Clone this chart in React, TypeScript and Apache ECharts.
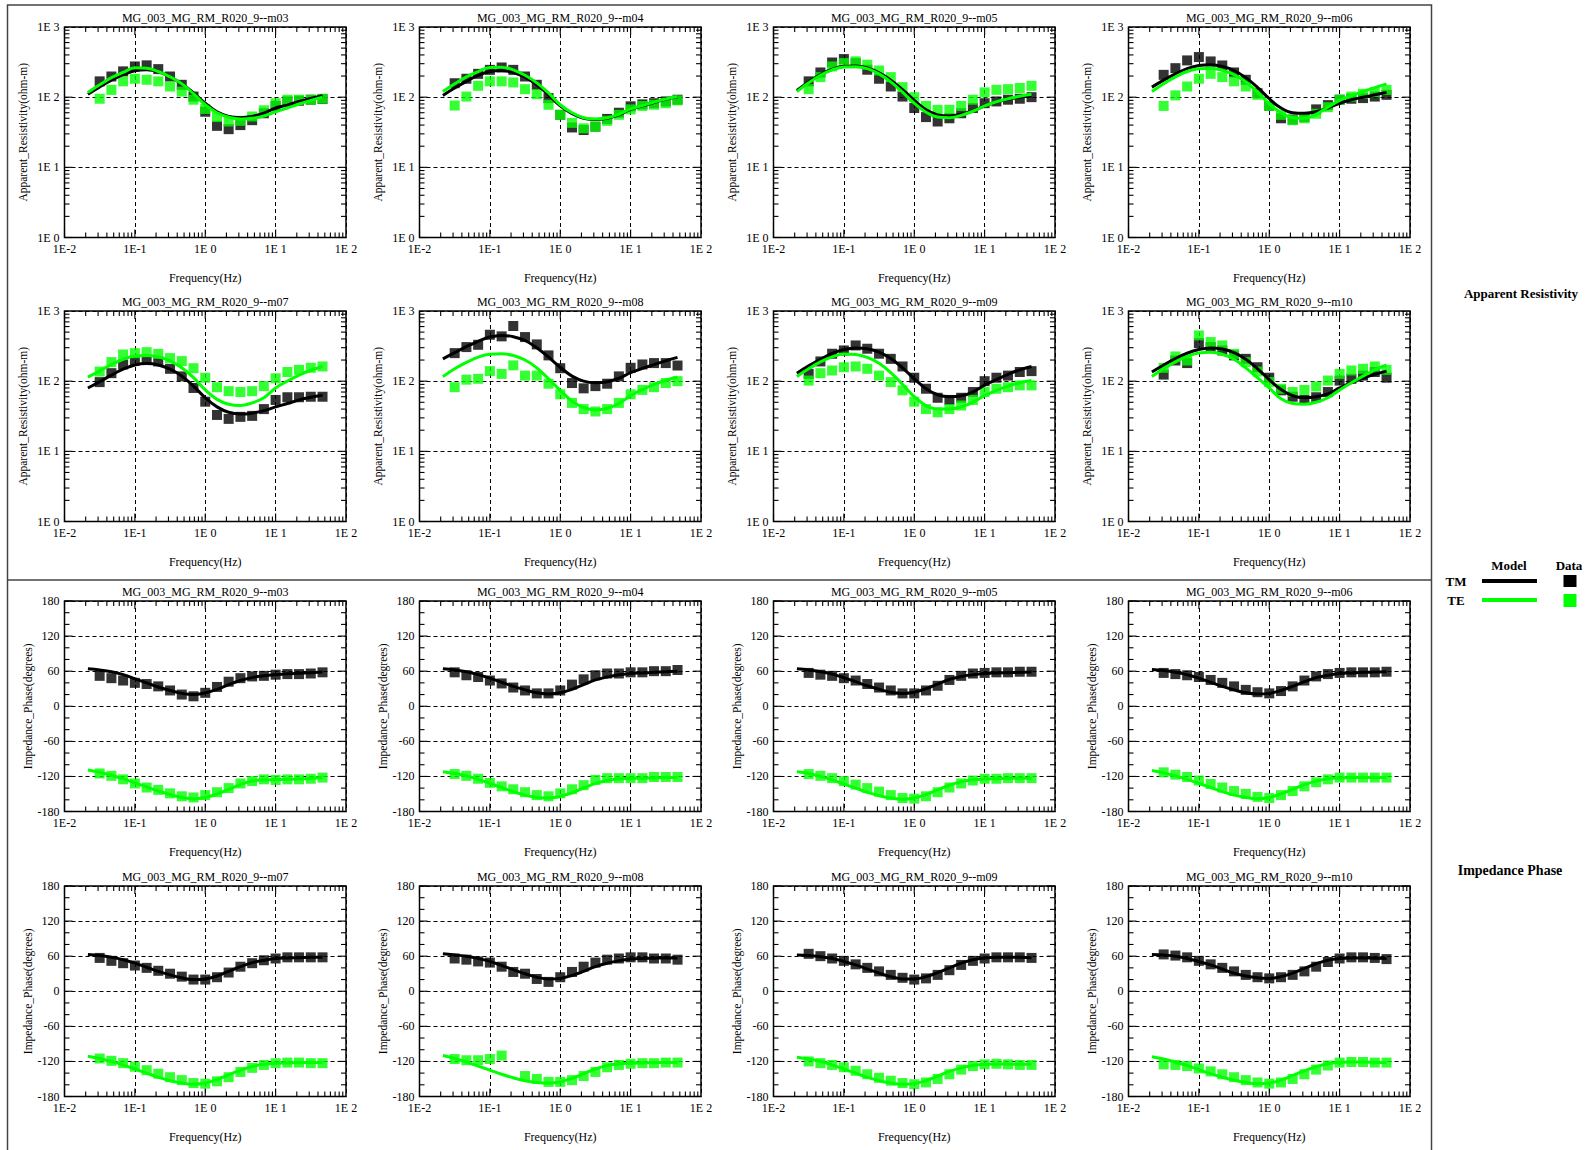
import React, { useEffect, useRef } from "react";
import * as echarts from "echarts";

// ---------- DATA ----------
const FREQ = [0.0316, 0.0464, 0.0681, 0.1, 0.147, 0.215, 0.316, 0.464, 0.681, 1, 1.47, 2.15, 3.16, 4.64, 6.81, 10, 14.7, 21.5, 31.6, 46.4];
const MODEL_FREQ = [0.0215, 0.0316, 0.0464, 0.0681, 0.1, 0.147, 0.215, 0.316, 0.464, 0.681, 1, 1.47, 2.15, 3.16, 4.64, 6.81, 10, 14.7, 21.5, 31.6, 46.4];
const X_TICKS = ["1E-2", "1E-1", "1E 0", "1E 1", "1E 2"];
const RHO_TICKS = ["1E 0", "1E 1", "1E 2", "1E 3"];
const PHASE_TICKS = [-180, -120, -60, 0, 60, 120, 180];

const STATION_NAMES = ["m03", "m04", "m05", "m06", "m07", "m08", "m09", "m10"];

// m03
const m03RhoTmData = [168, 197, 233, 274, 284, 251, 197, 150, 102, 62, 39, 35, 40, 47, 59, 75, 87, 89, 92, 94];
const m03RhoTeData = [95, 127, 168, 183, 177, 168, 142, 120, 92, 68, 52, 45, 46, 53, 65, 82, 92, 92, 92, 95];
const m03RhoTmModel = [110, 140, 175, 210, 238, 245, 230, 195, 155, 115, 82, 62, 53, 51, 53, 59, 70, 77, 87, 96, 105];
const m03RhoTeModel = [117, 150, 190, 225, 262, 258, 232, 195, 155, 112, 78, 60, 52, 49, 50, 54, 62, 70, 80, 90, 100];
const m03PhTmData = [52, 48, 44, 40, 38, 34, 27, 20, 17, 23, 33, 42, 48, 51, 52, 54, 55, 55, 56, 58];
const m03PhTeData = [-115, -119, -125, -132, -139, -143, -149, -154, -156, -152, -147, -140, -132, -128, -125, -126, -125, -125, -124, -122];
const m03PhTmModel = [64, 62, 59, 54, 47, 40, 33, 27, 22, 20, 23, 29, 37, 44, 49, 52, 54, 55.5, 56.5, 57.5, 58.5];
const m03PhTeModel = [-109, -113, -118, -124, -131, -138, -145, -151, -156, -158.5, -156, -150, -142, -134, -128, -126, -125.5, -125, -124.5, -123.5, -122];

// m04
const m04RhoTmData = [158, 183, 215, 245, 265, 245, 197, 150, 97, 56, 37, 34, 38, 49, 60, 74, 79, 82, 87, 92];
const m04RhoTeData = [76, 102, 145, 168, 168, 162, 130, 110, 78, 56, 43, 36, 38, 46, 56, 67, 75, 78, 82, 90];
const m04RhoTmModel = [106, 135, 168, 205, 232, 240, 225, 192, 150, 108, 75, 58, 50, 48, 50, 56, 67, 75, 84, 93, 101];
const m04RhoTeModel = [120, 155, 195, 232, 265, 268, 245, 205, 160, 115, 78, 60, 51, 49, 51, 57, 68, 76, 85, 94, 102];
const m04PhTmData = [58, 53, 50, 44, 39, 32, 27, 22, 22, 27, 37, 46, 53, 56, 56, 58, 58, 60, 60, 62];
const m04PhTeData = [-116, -119, -124, -131, -137, -142, -147, -152, -154, -149, -142, -135, -126, -123, -123, -123, -123, -121, -121, -121];
const m04PhTmModel = [64, 62, 59, 54, 48, 41, 34, 28, 23, 21, 23, 29, 37, 45, 50, 54, 56, 57, 58, 59, 60];
const m04PhTeModel = [-112, -115, -119, -125, -132, -139, -146, -152, -156, -157, -154, -148, -140, -132, -127, -124, -123, -123, -122.5, -122, -122];

// m05
const m05RhoTmData = [168, 225, 312, 349, 306, 246, 183, 142, 102, 70, 52, 45, 50, 59, 70, 82, 87, 92, 95, 100];
const m05RhoTeData = [130, 193, 274, 306, 324, 290, 240, 193, 139, 100, 75, 66, 66, 75, 92, 117, 127, 130, 135, 145];
const m05RhoTmModel = [125, 165, 210, 250, 275, 278, 260, 222, 175, 128, 90, 66, 56, 54, 57, 64, 75, 85, 93, 100, 105];
const m05RhoTeModel = [120, 160, 205, 245, 270, 272, 255, 215, 165, 118, 82, 61, 52, 51, 55, 63, 75, 86, 95, 103, 110];
const m05PhTmData = [57, 54, 52, 48, 44, 38, 32, 27, 22, 22, 27, 35, 45, 52, 56, 57, 58, 58, 59, 59];
const m05PhTeData = [-116, -119, -123, -128, -134, -140, -146, -152, -157, -158, -154, -147, -139, -132, -127, -124, -124, -123, -123, -123];
const m05PhTmModel = [64, 62, 59, 55, 49, 42, 35, 29, 24, 22, 24, 30, 38, 46, 51, 54, 56, 57, 57.5, 58, 58.5];
const m05PhTeModel = [-112, -115, -120, -126, -133, -140, -147, -153, -157, -159, -157, -151, -143, -135, -129, -126, -124.5, -124, -123.5, -123, -123];

// m06
const m06RhoTmData = [208, 259, 334, 373, 323, 283, 225, 177, 114, 75, 50, 48, 52, 67, 77, 92, 95, 97, 102, 108];
const m06RhoTeData = [75, 106, 142, 183, 215, 193, 168, 142, 108, 75, 56, 47, 50, 58, 72, 92, 102, 112, 118, 127];
const m06RhoTmModel = [139, 175, 215, 255, 283, 290, 275, 240, 190, 138, 95, 70, 60, 59, 62, 70, 82, 92, 100, 108, 117];
const m06RhoTeModel = [120, 155, 195, 232, 255, 258, 242, 210, 165, 118, 80, 60, 51, 50, 57, 72, 90, 105, 120, 137, 155];
const m06PhTmData = [57, 55, 53, 50, 45, 40, 34, 28, 24, 22, 26, 34, 44, 51, 55, 57, 58, 58, 58, 59];
const m06PhTeData = [-113, -117, -121, -127, -133, -139, -145, -150, -155, -157, -152, -145, -137, -130, -125, -122, -122, -122, -122, -122];
const m06PhTmModel = [63, 61, 58, 54, 48, 41, 34, 28, 23, 21, 22, 27, 34, 42, 49, 53, 56, 57, 58, 58.5, 59];
const m06PhTeModel = [-110, -114, -119, -125, -132, -139, -146, -152, -156, -158, -156, -150, -142, -134, -128, -124, -122.5, -122, -122, -122, -122];

// m07
const m07RhoTmData = [97, 130, 173, 197, 202, 191, 150, 117, 80, 51, 33, 29, 31, 32, 40, 54, 59, 59, 60, 60];
const m07RhoTeData = [137, 187, 240, 251, 259, 245, 213, 193, 153, 112, 82, 72, 70, 72, 85, 110, 135, 145, 155, 162];
const m07RhoTmModel = [80, 98, 122, 148, 170, 178, 170, 148, 118, 85, 58, 43, 36, 34, 35, 38, 43, 48, 54, 59, 63];
const m07RhoTeModel = [114, 140, 172, 205, 228, 233, 222, 195, 155, 112, 75, 55, 47, 45, 49, 58, 80, 100, 122, 143, 162];
const m07PhTmData = [57, 52, 48, 44, 40, 35, 30, 25, 20, 20, 24, 32, 42, 48, 53, 56, 58, 58, 58, 58];
const m07PhTeData = [-115, -119, -123, -129, -135, -141, -147, -152, -157, -158, -154, -147, -138, -131, -126, -123, -122, -122, -123, -123];
const m07PhTmModel = [63, 61, 58, 54, 48, 41, 34, 28, 23, 20, 21, 26, 34, 42, 49, 53, 56, 57, 57.5, 58, 58];
const m07PhTeModel = [-111, -115, -120, -126, -133, -140, -147, -153, -157, -159, -157, -151, -143, -135, -129, -125, -123, -122.5, -122, -122, -122];

// m08
const m08RhoTmData = [251, 306, 330, 459, 435, 611, 425, 334, 233, 153, 94, 79, 85, 92, 117, 155, 173, 181, 181, 167];
const m08RhoTeData = [82, 105, 108, 139, 127, 168, 120, 120, 92, 65, 49, 40, 37, 40, 49, 65, 75, 82, 94, 100];
const m08RhoTmModel = [208, 255, 310, 370, 425, 448, 430, 380, 300, 220, 158, 118, 100, 95, 98, 110, 132, 152, 172, 195, 218];
const m08RhoTeModel = [116, 150, 185, 220, 242, 245, 232, 200, 155, 108, 74, 52, 42, 39, 41, 48, 62, 76, 90, 103, 114];
const m08PhTmData = [56, 54, 51, 49, 42, 33, 30, 21, 16, 24, 33, 42, 49, 54, 56, 58, 58, 56, 56, 54];
const m08PhTeData = [-116, -118, -118, -116, -110, null, -145, -150, -155, -155, -152, -145, -138, -130, -126, -124, -123, -123, -122, -122];
const m08PhTmModel = [64, 62, 60, 56, 51, 44, 37, 30, 24, 21, 22, 27, 34, 42, 48, 52, 55, 56, 56.5, 57, 57];
const m08PhTeModel = [-110, -115, -121, -128, -135, -142, -148, -153, -156, -157, -155, -149, -141, -133, -127, -124, -123, -122.5, -122, -122, -121.5];

// m09
const m09RhoTmData = [127, 191, 246, 274, 323, 290, 246, 208, 162, 112, 78, 58, 54, 58, 70, 100, 112, 120, 135, 139];
const m09RhoTeData = [102, 130, 142, 158, 162, 150, 120, 97, 74, 51, 40, 36, 40, 45, 54, 70, 78, 82, 87, 87];
const m09RhoTmModel = [130, 165, 205, 248, 282, 298, 290, 260, 210, 155, 108, 78, 64, 60, 62, 70, 88, 105, 125, 145, 162];
const m09RhoTeModel = [117, 150, 188, 222, 243, 240, 218, 180, 132, 90, 60, 45, 40, 40, 43, 50, 62, 74, 85, 95, 102];
const m09PhTmData = [64, 60, 56, 52, 46, 40, 34, 28, 23, 20, 22, 28, 36, 45, 52, 56, 58, 58, 58, 57];
const m09PhTeData = [-120, -123, -126, -130, -136, -142, -148, -153, -157, -159, -156, -150, -142, -134, -128, -125, -124, -125, -126, -126];
const m09PhTmModel = [62, 61, 59, 56, 51, 45, 38, 31, 25, 21, 21, 25, 32, 40, 48, 54, 57, 58, 58, 58, 57.5];
const m09PhTeModel = [-113, -116, -120, -126, -133, -140, -147, -153, -157, -159, -158, -153, -145, -137, -131, -127, -125, -124.5, -124.5, -125, -125];

// m10
const m10RhoTmData = [124, 197, 181, 349, 306, 274, 233, 208, 158, 112, 74, 60, 54, 59, 70, 102, 108, 120, 135, 112];
const m10RhoTeData = [155, 225, 197, 449, 361, 323, 245, 187, 137, 97, 78, 70, 75, 84, 102, 127, 142, 150, 162, 145];
const m10RhoTmModel = [135, 170, 210, 250, 282, 298, 288, 255, 205, 150, 105, 76, 62, 58, 60, 66, 80, 95, 110, 125, 139];
const m10RhoTeModel = [117, 150, 188, 225, 252, 258, 242, 205, 155, 112, 80, 56, 48, 47, 50, 58, 75, 95, 118, 145, 170];
const m10PhTmData = [63, 61, 58, 52, 46, 40, 34, 28, 24, 22, 24, 28, 34, 42, 50, 56, 58, 58, 57, 55];
const m10PhTeData = [-125, -126, -128, -132, -137, -142, -147, -152, -156, -158, -156, -150, -142, -134, -127, -122, -121, -121, -122, -122];
const m10PhTmModel = [63, 62, 60, 56, 51, 45, 38, 31, 26, 23, 22, 25, 31, 39, 47, 53, 56, 57, 57, 56.5, 56];
const m10PhTeModel = [-112, -116, -121, -127, -134, -141, -147, -152, -156, -158, -157, -152, -144, -136, -129, -124, -121.5, -121, -121, -121.5, -122];

const STATIONS = [
  { name: "m03", rho: [m03RhoTmData, m03RhoTeData, m03RhoTmModel, m03RhoTeModel], ph: [m03PhTmData, m03PhTeData, m03PhTmModel, m03PhTeModel] },
  { name: "m04", rho: [m04RhoTmData, m04RhoTeData, m04RhoTmModel, m04RhoTeModel], ph: [m04PhTmData, m04PhTeData, m04PhTmModel, m04PhTeModel] },
  { name: "m05", rho: [m05RhoTmData, m05RhoTeData, m05RhoTmModel, m05RhoTeModel], ph: [m05PhTmData, m05PhTeData, m05PhTmModel, m05PhTeModel] },
  { name: "m06", rho: [m06RhoTmData, m06RhoTeData, m06RhoTmModel, m06RhoTeModel], ph: [m06PhTmData, m06PhTeData, m06PhTmModel, m06PhTeModel] },
  { name: "m07", rho: [m07RhoTmData, m07RhoTeData, m07RhoTmModel, m07RhoTeModel], ph: [m07PhTmData, m07PhTeData, m07PhTmModel, m07PhTeModel] },
  { name: "m08", rho: [m08RhoTmData, m08RhoTeData, m08RhoTmModel, m08RhoTeModel], ph: [m08PhTmData, m08PhTeData, m08PhTmModel, m08PhTeModel] },
  { name: "m09", rho: [m09RhoTmData, m09RhoTeData, m09RhoTmModel, m09RhoTeModel], ph: [m09PhTmData, m09PhTeData, m09PhTmModel, m09PhTeModel] },
  { name: "m10", rho: [m10RhoTmData, m10RhoTeData, m10RhoTmModel, m10RhoTeModel], ph: [m10PhTmData, m10PhTeData, m10PhTmModel, m10PhTeModel] },
];

// ---------- LAYOUT / STYLE ----------
const FONT = "'Liberation Serif', 'Times New Roman', serif";
const COL_LEFT = [64.5, 419.5, 773.5, 1128.5];
const ROW_TOP = [27, 311, 601, 886];
const GRID_W = 281.5;
const GRID_H = 210.5;
const GREEN = "#00ff00";

function xLabel(v: number) {
  const e = Math.round(Math.log10(v));
  const s = e < 0 ? `1E${e}` : `1E ${e}`;
  return X_TICKS.includes(s) ? s : "";
}
function rhoLabel(v: number) {
  const e = Math.round(Math.log10(v));
  const s = `1E ${e}`;
  return RHO_TICKS.includes(s) ? s : "";
}

function makeTickRenderer(isRes: boolean) {
  return (params: any, api: any) => {
    const children: any[] = [];
    const yMin = isRes ? 1 : -180;
    const yMax = isRes ? 1000 : 180;
    const [xl, yb] = api.coord([0.01, yMin]);
    const [xr, yt] = api.coord([100, yMax]);
    const st = { stroke: "#000", lineWidth: 1.1 };
    const add = (x1: number, y1: number, x2: number, y2: number) =>
      children.push({ type: "line", shape: { x1, y1, x2, y2 }, style: st });
    for (let d = -2; d <= 1; d++) {
      for (let m = 1; m <= 9; m++) {
        const f = m * Math.pow(10, d);
        const x = api.coord([f, yMin])[0];
        const len = m === 1 ? 8 : 5;
        add(x, yb, x, yb - len);
        add(x, yt, x, yt + len);
      }
    }
    if (isRes) {
      for (let d = 0; d <= 2; d++) {
        for (let m = 1; m <= 9; m++) {
          const v = m * Math.pow(10, d);
          const y = api.coord([1, v])[1];
          const len = m === 1 ? 8 : 5;
          add(xl, y, xl + len, y);
          add(xr, y, xr - len, y);
        }
      }
    } else {
      for (let v = -180; v <= 180; v += 20) {
        const y = api.coord([1, v])[1];
        const len = v % 60 === 0 ? 8 : 5;
        add(xl, y, xl + len, y);
        add(xr, y, xr - len, y);
      }
    }
    return { type: "group", children };
  };
}

function buildOption() {
  const grid: any[] = [];
  const xAxis: any[] = [];
  const yAxis: any[] = [];
  const series: any[] = [];
  const graphic: any[] = [];

  const textStyle = { fontFamily: FONT, fontSize: 12, color: "#000" };

  for (let r = 0; r < 4; r++) {
    for (let c = 0; c < 4; c++) {
      const idx = r * 4 + c;
      const isRes = r < 2;
      const st = STATIONS[(r % 2) * 4 + c];
      grid.push({
        left: COL_LEFT[c],
        top: ROW_TOP[r],
        width: GRID_W,
        height: GRID_H,
        show: true,
        borderColor: "#000",
        borderWidth: 1.5,
        backgroundColor: "transparent",
      });
      xAxis.push({
        type: "log",
        logBase: 10,
        gridIndex: idx,
        min: 0.01,
        max: 100,
        name: "Frequency(Hz)",
        nameLocation: "middle",
        nameGap: 34,
        nameTextStyle: textStyle,
        axisLine: { show: false },
        axisTick: { show: false },
        axisLabel: { ...textStyle, margin: 5, formatter: xLabel },
        splitLine: { show: true, lineStyle: { type: [4, 3], color: "#000", width: 1 } },
      });
      if (isRes) {
        yAxis.push({
          type: "log",
          logBase: 10,
          gridIndex: idx,
          min: 1,
          max: 1000,
          name: "Apparent_Resistivity(ohm-m)",
          nameLocation: "middle",
          nameGap: 36,
          nameTextStyle: { ...textStyle, fontSize: 11.5 },
          axisLine: { show: false },
          axisTick: { show: false },
          axisLabel: { ...textStyle, margin: 5, formatter: rhoLabel },
          splitLine: { show: true, lineStyle: { type: [4, 3], color: "#000", width: 1 } },
        });
      } else {
        yAxis.push({
          type: "value",
          gridIndex: idx,
          min: PHASE_TICKS[0],
          max: PHASE_TICKS[PHASE_TICKS.length - 1],
          interval: 60,
          name: "Impedance_Phase(degrees)",
          nameLocation: "middle",
          nameGap: 30,
          nameTextStyle: { ...textStyle, fontSize: 11.5 },
          axisLine: { show: false },
          axisTick: { show: false },
          axisLabel: { ...textStyle, margin: 5 },
          splitLine: { show: true, lineStyle: { type: [4, 3], color: "#000", width: 1 } },
        });
      }
      const arrs = isRes ? st.rho : st.ph;
      const pts = (xs: number[], ys: (number | null)[]) =>
        xs.map((f, i) => [f, ys[i]]).filter((p) => p[1] !== null && p[1] !== undefined);
      series.push({
        type: "scatter",
        xAxisIndex: idx,
        yAxisIndex: idx,
        symbol: "rect",
        symbolSize: 10,
        itemStyle: { color: "#000" },
        data: pts(FREQ, arrs[0]),
        silent: true,
        z: 2,
      });
      series.push({
        type: "scatter",
        xAxisIndex: idx,
        yAxisIndex: idx,
        symbol: "rect",
        symbolSize: 10,
        itemStyle: { color: GREEN },
        data: pts(FREQ, arrs[1]),
        silent: true,
        z: 2,
      });
      series.push({
        type: "line",
        xAxisIndex: idx,
        yAxisIndex: idx,
        showSymbol: false,
        smooth: 0.4,
        lineStyle: { color: "#000", width: 3 },
        data: pts(MODEL_FREQ, arrs[2]),
        silent: true,
        z: 3,
      });
      series.push({
        type: "line",
        xAxisIndex: idx,
        yAxisIndex: idx,
        showSymbol: false,
        smooth: 0.4,
        lineStyle: { color: GREEN, width: 3 },
        data: pts(MODEL_FREQ, arrs[3]),
        silent: true,
        z: 3,
      });
      series.push({
        type: "custom",
        xAxisIndex: idx,
        yAxisIndex: idx,
        renderItem: makeTickRenderer(isRes),
        data: [[1, isRes ? 10 : 0]],
        silent: true,
        clip: false,
        z: 5,
      });
      graphic.push({
        type: "text",
        x: COL_LEFT[c] + GRID_W / 2,
        y: ROW_TOP[r] - 9,
        style: {
          text: `MG_003_MG_RM_R020_9--${st.name}`,
          font: `12px ${FONT}`,
          fill: "#000",
          align: "center",
          verticalAlign: "middle",
        },
      });
    }
  }

  // Frame
  graphic.push({
    type: "rect",
    shape: { x: 7.5, y: 5, width: 1424, height: 1170 },
    style: { fill: "none", stroke: "#444", lineWidth: 1.5 },
  });
  graphic.push({
    type: "line",
    shape: { x1: 7.5, y1: 580, x2: 1431.5, y2: 580 },
    style: { stroke: "#444", lineWidth: 1.5 },
  });
  const bold = (size: number) => `bold ${size}px ${FONT}`;
  const label = (text: string, x: number, y: number, size: number) => ({
    type: "text",
    x,
    y,
    style: { text, font: bold(size), fill: "#000", align: "center", verticalAlign: "middle" },
  });
  graphic.push(label("Apparent Resistivity", 1521, 293, 13));
  graphic.push(label("Impedance Phase", 1510, 870, 14));
  graphic.push(label("Model", 1509, 565, 13));
  graphic.push(label("Data", 1569, 565, 13));
  graphic.push(label("TM", 1456, 581, 13));
  graphic.push(label("TE", 1456, 600, 13));
  graphic.push({
    type: "line",
    shape: { x1: 1482, y1: 581, x2: 1537, y2: 581 },
    style: { stroke: "#000", lineWidth: 4 },
  });
  graphic.push({
    type: "line",
    shape: { x1: 1482, y1: 600, x2: 1537, y2: 600 },
    style: { stroke: GREEN, lineWidth: 4 },
  });
  graphic.push({
    type: "rect",
    shape: { x: 1563.5, y: 575, width: 13, height: 12 },
    style: { fill: "#000" },
  });
  graphic.push({
    type: "rect",
    shape: { x: 1563.5, y: 594, width: 13, height: 13 },
    style: { fill: GREEN },
  });

  return {
    animation: false,
    backgroundColor: "#fff",
    grid,
    xAxis,
    yAxis,
    series,
    graphic,
  };
}

export default function App() {
  const ref = useRef<HTMLDivElement>(null);
  useEffect(() => {
    if (!ref.current) return;
    const chart = echarts.init(ref.current, undefined, { renderer: "svg" });
    chart.setOption(buildOption() as any);
    return () => chart.dispose();
  }, []);
  return (
    <div
      ref={ref}
      style={{ position: "absolute", left: 0, top: 0, width: 1595, height: 1150 }}
    />
  );
}
